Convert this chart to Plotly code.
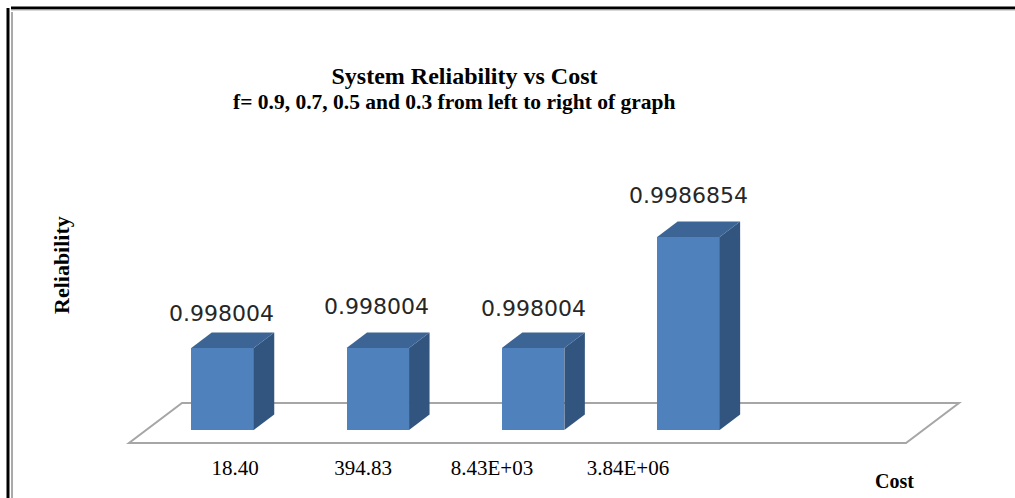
import plotly.graph_objects as go

# ---- data -------------------------------------------------------------
cost_labels = ["18.40", "394.83", "8.43E+03", "3.84E+06"]
reliability = [0.998004, 0.998004, 0.998004, 0.9986854]
value_labels = ["0.998004", "0.998004", "0.998004", "0.9986854"]
positions = [0, 1, 2, 3]

# ---- scales and style ---------------------------------------------------
W, H = 1015, 498
PLOT_BOTTOM = 450
PX_PER_CAT = 155.3          # pixels per category
PX_PER_VAL = 162900.0       # pixels per unit of reliability
X0_PX = 222.5               # pixel of category 0
BASE = 0.9975               # axis floor value
BASE_PX = 430

cat = lambda px: (px - X0_PX) / PX_PER_CAT
val = lambda px: BASE + (BASE_PX - px) / PX_PER_VAL
paper_y = lambda py: (PLOT_BOTTOM - py) / PLOT_BOTTOM

BAR_W = 62.5 / PX_PER_CAT
DX = 20.5 / PX_PER_CAT       # depth offset, horizontal
DY = 15.5 / PX_PER_VAL       # depth offset, vertical

FRONT, SIDE, TOP = "#4f81bd", "#325580", "#3c6494"
FLOOR = "#a6a6a6"
SERIF = "Liberation Serif"
LABEL_DX = [-1.5, -1.5, 0, 0]     # label nudges in px
LABEL_DY = [18.5, 25.5, 23.5, 25.5]
TICK_POS_PX = [235, 363, 492, 628]

fig = go.Figure()

fig.add_bar(
    x=positions, y=[v - BASE for v in reliability], base=BASE,
    width=BAR_W, marker=dict(color=FRONT, line=dict(width=0)),
    hoverinfo="skip", showlegend=False,
)

for x, v in zip(positions, reliability):
    l, r = x - BAR_W / 2, x + BAR_W / 2
    fig.add_scatter(
        x=[r, r + DX, r + DX, r, r], y=[BASE, BASE + DY, v + DY, v, BASE],
        fill="toself", fillcolor=SIDE, mode="lines", line=dict(width=0),
        hoverinfo="skip", showlegend=False,
    )
    fig.add_scatter(
        x=[l, l + DX, r + DX, r, l], y=[v, v + DY, v + DY, v, v],
        fill="toself", fillcolor=TOP, mode="lines", line=dict(width=0),
        hoverinfo="skip", showlegend=False,
    )

annotations = []
for x, v, t, dx, dy in zip(positions, reliability, value_labels, LABEL_DX, LABEL_DY):
    annotations.append(dict(
        x=x, y=v + DY, xref="x", yref="y", text=t, showarrow=False,
        xshift=dx, yshift=dy, yanchor="middle",
        font=dict(family="DejaVu Sans", size=22, color="#262626"),
    ))

for text, px, py, size, rot in [
    ("f= 0.9, 0.7, 0.5 and 0.3 from left to right of graph", 453.5, 102, 21.5, 0),
    ("Reliability", 61, 265, 22, -90),
    ("Cost", 894, 481, 20, 0),
]:
    annotations.append(dict(
        x=px / W, y=paper_y(py), xref="paper", yref="paper", showarrow=False,
        text=f"<b>{text}</b>", textangle=rot, xanchor="center", yanchor="middle",
        font=dict(family=SERIF, size=size, color="#000000"),
    ))

shapes = [
    dict(type="path", xref="x", yref="y", layer="below",
         path=f"M {cat(129)} {val(443)} L {cat(906)} {val(443)} L {cat(959)} {val(403)} "
              f"L {cat(182)} {val(403)} Z",
         line=dict(color=FLOOR, width=2), fillcolor="#ffffff"),
]

frame = [
    (8, 8, 8, 498, 3, "#000000"),
    (12, 12, 12, 498, 1, "#555555"),
    (11, 8, 1015, 8, 3, "#000000"),
    (11, 10, 1015, 10, 1, "#b0b0b0"),
]
for x0, y0, x1, y1, w, c in frame:
    shapes.append(dict(type="line", xref="paper", yref="paper",
                       x0=x0 / W, x1=x1 / W, y0=paper_y(y0), y1=paper_y(y1),
                       line=dict(color=c, width=w)))

fig.update_layout(
    width=W, height=H, margin=dict(l=0, r=0, t=0, b=H - PLOT_BOTTOM, autoexpand=False),
    paper_bgcolor="#ffffff", plot_bgcolor="#ffffff",
    showlegend=False, bargap=0,
    title=dict(text="<b>System Reliability vs Cost</b>", x=464.5 / W, xanchor="center",
               y=1 - 76 / H, yanchor="middle", font=dict(family=SERIF, size=24, color="#000000")),
    xaxis=dict(range=[cat(0), cat(W)], tickmode="array",
               tickvals=[cat(p) for p in TICK_POS_PX], ticktext=cost_labels,
               showgrid=False, zeroline=False, showline=False, ticks="",
               ticklabelstandoff=3, tickangle=0,
               tickfont=dict(family=SERIF, size=21, color="#000000")),
    yaxis=dict(range=[val(PLOT_BOTTOM), val(0)], visible=False),
    shapes=shapes,
    annotations=annotations,
)

fig.write_html("out.html", config=dict(displayModeBar=False),
               post_script="document.body.style.margin='0';document.body.style.overflow='hidden';")
